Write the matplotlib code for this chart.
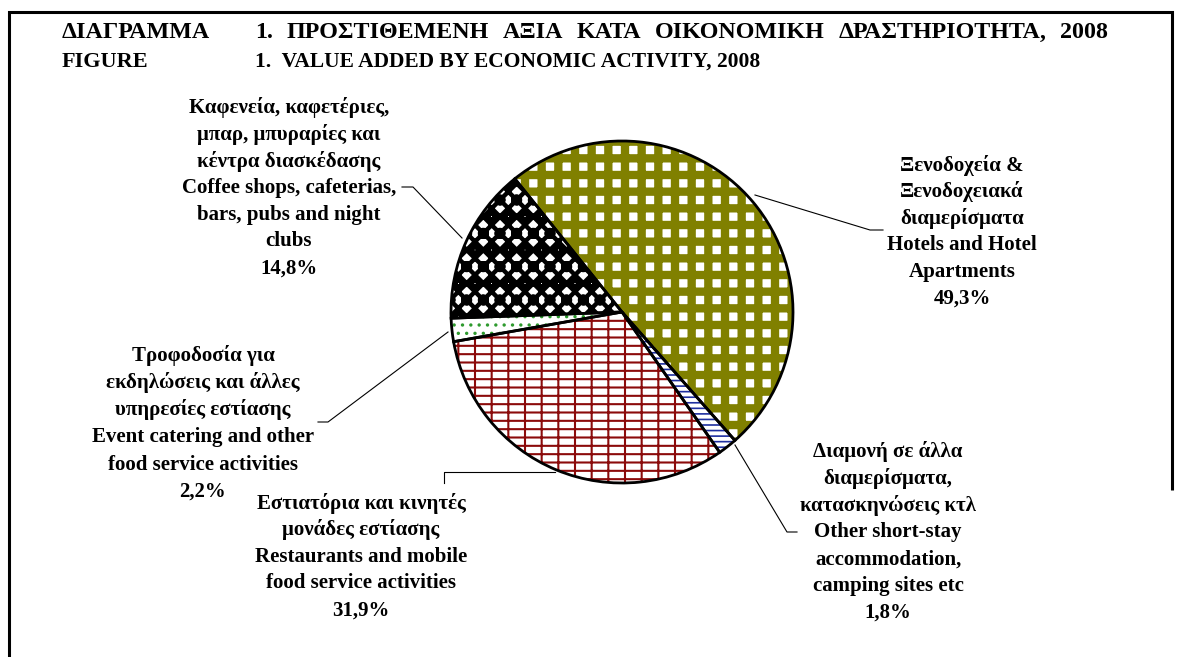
import matplotlib
matplotlib.use("Agg")
import matplotlib.pyplot as plt

# ---- data ----
labels_el = [
    ["Ξενοδοχεία &", "Ξενοδοχειακά", "διαμερίσματα"],
    ["Διαμονή σε άλλα", "διαμερίσματα,", "κατασκηνώσεις κτλ"],
    ["Εστιατόρια και κινητές", "μονάδες εστίασης"],
    ["Τροφοδοσία για", "εκδηλώσεις και άλλες", "υπηρεσίες εστίασης"],
    ["Καφενεία, καφετέριες,", "μπαρ, μπυραρίες και", "κέντρα διασκέδασης"],
]
labels_en = [
    ["Hotels and Hotel", "Apartments"],
    ["Other short-stay", "accommodation,", "camping sites etc"],
    ["Restaurants and mobile", "food service activities"],
    ["Event catering and other", "food service activities"],
    ["Coffee shops, cafeterias,", "bars, pubs and night", "clubs"],
]
shares = [49.3, 1.8, 31.9, 2.2, 14.8]
hatch_colors = ["#808000", "#1f2fa0", "#8b0a0a", "#2e9a2e", "#000000"]
hatches = ["+", "---", "+-", "..", "xxo"]
hatch_lws = [6.0, 1.2, 1.5, 1.2, 3.2]

title_el_head = "ΔΙΑΓΡΑΜΜΑ"
title_el_words = ["1.", "ΠΡΟΣΤΙΘΕΜΕΝΗ", "ΑΞΙΑ", "ΚΑΤΑ", "ΟΙΚΟΝΟΜΙΚΗ", "ΔΡΑΣΤΗΡΙΟΤΗΤΑ,", "2008"]
title_en_head = "FIGURE"
title_en_text = "1.  VALUE ADDED BY ECONOMIC ACTIVITY, 2008"

W, H = 1179, 657
fig = plt.figure(figsize=(W / 100, H / 100), dpi=100)
ax = fig.add_axes([0, 0, 1, 1])

def Y(y):
    return H - y

FONT = ["Liberation Serif", "DejaVu Serif"]

# pie
center = (622, Y(312))
radius = 171
start = 128.8
wedges, _ = ax.pie(shares, startangle=start, counterclock=False, center=center,
                   radius=radius, frame=True,
                   wedgeprops=dict(linewidth=0, facecolor="white"))
for w, hc, h, hlw in zip(wedges, hatch_colors, hatches, hatch_lws):
    w.set_edgecolor(hc)
    w.set_hatch(h)
    if hasattr(w, "set_hatch_linewidth"):
        w.set_hatch_linewidth(hlw)
ax.pie(shares, startangle=start, counterclock=False, center=center, radius=radius,
       frame=True, wedgeprops=dict(linewidth=2.0, edgecolor="black", fill=False))
ax.set_xlim(0, W)
ax.set_ylim(0, H)
ax.axis("off")

# frame
ax.plot([9, 9, 1172, 1172], [Y(657), Y(12), Y(12), Y(490)], color="black", lw=2.2,
        solid_joinstyle="miter", solid_capstyle="butt")

# titles
tfs = 17.3
ax.text(62, Y(32), title_el_head, fontsize=17.3, fontweight="bold", family=FONT, va="center")
renderer = fig.canvas.get_renderer()
word_texts = [ax.text(0, Y(32), wd, fontsize=tfs, fontweight="bold", family=FONT,
                      va="center") for wd in title_el_words]
widths = [t.get_window_extent(renderer).width for t in word_texts]
x_left, x_right = 255, 1108
gap = (x_right - x_left - sum(widths)) / (len(widths) - 1)
x = x_left
for t, wdt in zip(word_texts, widths):
    t.set_x(x)
    x += wdt + gap
ax.text(62, Y(62), title_en_head, fontsize=16, fontweight="bold", family=FONT, va="center")
ax.text(255, Y(62), title_en_text, fontsize=15.5, fontweight="bold", family=FONT, va="center")

# labels: (center x, first-line y, line step)
label_pos = [(962, 165, 26.8), (888, 452, 26.8), (361, 503, 26.8),
             (203, 355, 27.4), (289, 108, 26.7)]
for el, en, v, (cx, y0, step) in zip(labels_el, labels_en, shares, label_pos):
    lines = el + en + [f"{v:.1f}".replace(".", ",") + "%"]
    for i, t in enumerate(lines):
        ax.text(cx, Y(y0 + i * step), t, fontsize=15, fontweight="bold", family=FONT,
                ha="center", va="center")

# leader lines
leaders = [
    [(755, 195), (870, 230), (883, 230)],
    [(735, 445), (787, 532), (797, 532)],
    [(555, 472), (444, 472), (444, 483)],
    [(448, 332), (328, 422), (318, 422)],
    [(462, 238), (413, 187), (402, 187)],
]
for pts in leaders:
    ax.plot([p[0] for p in pts], [Y(p[1]) for p in pts], color="black", lw=0.8)

fig.savefig("out.png", dpi=100)
